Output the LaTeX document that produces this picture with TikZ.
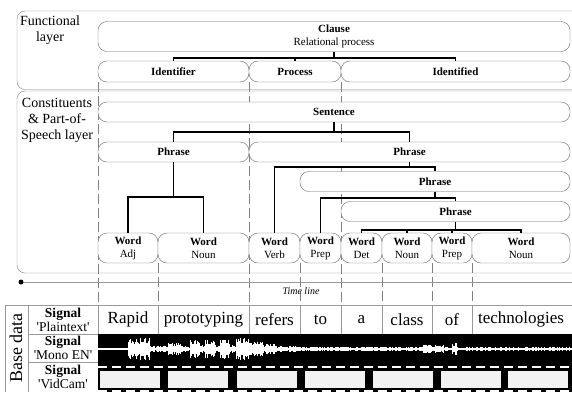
\documentclass[tikz,border=0pt]{standalone}
\usepackage{fontspec}
\setmainfont{Liberation Serif}

\begin{document}
\begin{tikzpicture}[x=1pt, y=-1pt,
    pill/.style ={draw=black!60, fill=white, rounded corners=9pt, inner sep=0pt,
                  align=center, font=\fontsize{11}{13}\selectfont},
    layer/.style ={draw=black!50, rounded corners=8pt},
    branch/.style ={line width=1.6pt},
    boundary/.style ={draw=black!50, dash pattern=on 10pt off 4pt},
    grid/.style ={draw=black!40},
    bigword/.style ={font=\fontsize{17}{17}\selectfont},
    layerlabel/.style ={align=center, font=\fontsize{14}{16}\selectfont},
    siglabel/.style ={align=center, inner sep=0pt, font=\fontsize{13.5}{14}\selectfont}]
   \useasboundingbox (0,0) rectangle (572,392);
   \clip (0,0) rectangle (572,392);
   % layers
   \draw[layer] (17,11) rectangle (640,89.5);
   \draw[layer] (17,91) rectangle (640,273);
   \node[layerlabel] (funclabel) at (50,30) {Functional\\layer};
   \node[layerlabel] (conslabel) at (57,120) {Constituents\\\& Part-of-\\Speech layer};
   % time boundaries
   \foreach \x in {98,249,341} \draw[boundary] (\x,82) -- (\x,302);
   \foreach \x in {158,300,382,432,472} \draw[boundary] (\x,263) -- (\x,302);
   % functional layer
   \node[pill, minimum width=472, minimum height=30] (clause) at (334,36.5) {\textbf{Clause}\\Relational process};
   \node[pill, minimum width=151, minimum height=21] (ident) at (173.5,71.5) {\textbf{Identifier}};
   \node[pill, minimum width=92, minimum height=21] (process) at (295,71.5) {\textbf{Process}};
   \node[pill, minimum width=229, minimum height=21] (identified) at (455.5,71.5) {\textbf{Identified}};
   % constituents layer
   \node[pill, minimum width=472, minimum height=20] (sentence) at (334,112) {\textbf{Sentence}};
   \node[pill, minimum width=151, minimum height=20] (phraseL) at (173.5,152) {\textbf{Phrase}};
   \node[pill, minimum width=321, minimum height=20] (phraseR) at (409.5,152) {\textbf{Phrase}};
   \node[pill, minimum width=270, minimum height=20] (phrase2) at (435,181.5) {\textbf{Phrase}};
   \node[pill, minimum width=229, minimum height=20] (phrase3) at (455.5,211.5) {\textbf{Phrase}};
   \node[pill, minimum width=60, minimum height=30] (adj) at (128,248) {\textbf{Word}\\Adj};
   \node[pill, minimum width=91, minimum height=30] (noun1) at (203.5,248) {\textbf{Word}\\Noun};
   \node[pill, minimum width=51, minimum height=30] (verb) at (274.5,248) {\textbf{Word}\\Verb};
   \node[pill, minimum width=41, minimum height=30] (prep1) at (320.5,248) {\textbf{Word}\\Prep};
   \node[pill, minimum width=41, minimum height=30] (det) at (361.5,248) {\textbf{Word}\\Det};
   \node[pill, minimum width=50, minimum height=30] (noun2) at (407,248) {\textbf{Word}\\Noun};
   \node[pill, minimum width=40, minimum height=30] (prep2) at (452,248) {\textbf{Word}\\Prep};
   \node[pill, minimum width=98, minimum height=30] (noun3) at (521,248) {\textbf{Word}\\Noun};
   % tree
   \draw[branch] (clause.south) -- ++(0,6) coordinate (cj);
   \draw[branch] (ident.north) |- (cj) -| (identified.north);
   \draw[branch] (cj) -| (process.north);
   \draw[branch] (sentence.south) -- ++(0,10) coordinate (sj);
   \draw[branch] (phraseL.north) |- (sj) -| (phraseR.north);
   \draw[branch] (phraseL.south) -- ++(0,35) coordinate (lj);
   \draw[branch] (adj.north) |- (lj) -| (noun1.north);
   \draw[branch] (phraseR.south) -- ++(0,5) coordinate (rj);
   \draw[branch] (verb.north) |- (rj) -| (phrase2.north);
   \draw[branch] (phrase2.south) -- ++(0,6) coordinate (p2j);
   \draw[branch] (prep1.north) |- (p2j) -| (phrase3.north);
   \draw[branch] (phrase3.south) -- ++(0,8) coordinate (p3j);
   \draw[branch] (det.north) |- (p3j) -| (noun3.north);
   \draw[branch] (p3j) -| (noun2.north);
   \draw[branch] (p3j) -| (prep2.north);
   % time line
   \draw[black!40] (21,282) -- (572,282);
   \fill (21,282) circle (2.5pt);
   \node[font=\itshape\fontsize{10}{10}\selectfont] (timelabel) at (301,291) {Time line};
   % base data
   \draw[grid] (5,305) -- (572,305);
   \draw[grid] (5,305) -- (5,392);
   \draw[grid] (28,305) -- (28,392);
   \draw[grid] (98,305) -- (98,392);
   \draw[grid] (28,334) -- (98,334) (28,362) -- (98,362);
   \foreach \x in {158,249,300,341,382,432,472} \draw[grid] (\x,305) -- (\x,334);
   \node[rotate=90, font=\fontsize{18}{18}\selectfont] (basedata) at (16,348) {Base data};
   \node[siglabel] (sigtext) at (63,319.5) {\textbf{Signal}\\\textquotesingle Plaintext\textquotesingle};
   \node[siglabel] (sigaudio) at (63,348) {\textbf{Signal}\\\textquotesingle Mono EN\textquotesingle};
   \node[siglabel] (sigvideo) at (63,377) {\textbf{Signal}\\\textquotesingle VidCam\textquotesingle};
   \node[bigword] (t1) at (128,319.5) {Rapid};
   \node[bigword] (t2) at (203.5,319.5) {prototyping};
   \node[bigword] (t3) at (274.5,319.5) {refers};
   \node[bigword] (t4) at (320.5,319.5) {to};
   \node[bigword] (t5) at (361.5,319.5) {a};
   \node[bigword] (t6) at (407,319.5) {class};
   \node[bigword] (t7) at (452,319.5) {of};
   \node[bigword] (t8) at (521,319.5) {technologies};
   % audio signal
   \fill (98,334) rectangle (572,362);
   \draw[white, line width=1.2pt] (98,349) -- (572,349);
   \pgfmathsetseed{42}
   \foreach \a/\b/\h in {98/128/1, 128/150/11, 150/168/3, 168/180/6.5, 180/190/3,
                         190/200/9.5, 200/205/4, 205/215/9.5, 215/220/4, 220/230/9.5, 230/236/4,
                         236/250/11, 250/262/7, 262/275/5, 275/300/3, 300/423/2.2,
                         423/443/4.5, 443/452/2.2, 452/457/6.5, 457/572/1.8} {
     \pgfmathtruncatemacro\n{(\b-\a)/0.8}
     \foreach \i in {0,...,\n} {
       \pgfmathsetmacro\r{\h*(0.45+0.55*rnd)}
       \draw[white, line width=0.9pt] (\a+\i*0.8,349-\r) -- (\a+\i*0.8,349+\r);
     }
   }
   % video signal
   \fill (98,362) rectangle (572,392);
   \draw[white, line width=2pt, dash pattern=on 9pt off 5pt] (98,366.5) -- (572,366.5);
   \draw[white, line width=2pt, dash pattern=on 9pt off 5pt] (98,391) -- (572,391);
   \foreach \x in {100,168,237,305,373,441,508} \fill[black!5] (\x,371) rectangle ++(60,17);
\end{tikzpicture}
\end{document}
